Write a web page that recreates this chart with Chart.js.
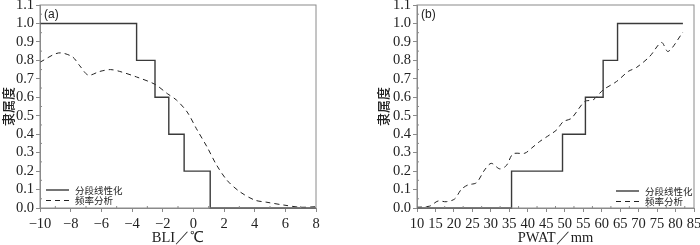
<!DOCTYPE html>
<html lang="zh">
<head>
<meta charset="UTF-8" />
<title>隶属度</title>
<script src="https://cdn.jsdelivr.net/npm/chart.js@4"></script>
<style>
  body { margin: 0; background: #fff; }
  .row { display: flex; width: 700px; height: 245px; }
  .chartBox { width: 350px; height: 245px; }
</style>
</head>
<body>
<div class="row">
  <div class="chartBox"><canvas id="chartA" width="350" height="245"></canvas></div>
  <div class="chartBox"><canvas id="chartB" width="350" height="245"></canvas></div>
</div>
<script>
// shared
const yTicks = [0, 0.1, 0.2, 0.3, 0.4, 0.5, 0.6, 0.7, 0.8, 0.9, 1.0, 1.1];
const yTitle = '隶属度';
const stepLabel = '分段线性化';
const freqLabel = '频率分析';

// (a) BLI
const bliTicks = [-10, -8, -6, -4, -2, 0, 2, 4, 6, 8];
const bliStepX = [-10, -3.7, -2.5, -1.6, -0.6, 1.1, 8];
const bliStepY = [1.0, 0.8, 0.6, 0.4, 0.2, 0.0, 0.0];
const bliFreqX = [-10, -8.8, -7.9, -7.4, -6.85, -6.1, -5.4, -4.8, -3.7, -2.5, -1.7, -1.1, -0.4, 0.2, 0.9, 1.5, 2.2, 3.0, 4.0, 4.8, 5.9, 7.0, 8.0];
const bliFreqY = [0.79, 0.84, 0.82, 0.77, 0.72, 0.74, 0.75, 0.74, 0.71, 0.67, 0.62, 0.585, 0.52, 0.43, 0.33, 0.235, 0.15, 0.09, 0.043, 0.031, 0.016, 0.004, 0.007];

// (b) PWAT
const pwatTicks = [10, 15, 20, 25, 30, 35, 40, 45, 50, 55, 60, 65, 70, 75, 80, 85];
const pwatStepX = [10, 35.6, 49.4, 55.6, 60.4, 64.3, 82];
const pwatStepY = [0.0, 0.2, 0.4, 0.6, 0.8, 1.0, 1.0];
const pwatFreqX = [10, 13.4, 15.7, 17.9, 20.2, 22, 23.8, 26.1, 28.3, 30.1, 32.4, 34.2, 36, 39.2, 41, 43.2, 45.9, 47.8, 49.6, 51.8, 55.4, 57.7, 60.4, 64, 67.2, 69.4, 73, 76.2, 78, 82];
const pwatFreqY = [0.004, 0.01, 0.038, 0.034, 0.049, 0.101, 0.125, 0.137, 0.206, 0.242, 0.212, 0.23, 0.293, 0.297, 0.324, 0.36, 0.396, 0.423, 0.468, 0.486, 0.577, 0.586, 0.64, 0.685, 0.74, 0.761, 0.821, 0.897, 0.848, 0.953];

const frameColor = '#8a8a8a';
const serif = "'Liberation Serif', 'Times New Roman', serif";
const cjk = "'Noto Sans CJK SC', sans-serif";

const toPoints = (xs, ys) => xs.map((x, i) => ({ x: x, y: ys[i] }));
const fmtMinus = v => String(v).replace('-', '\u2212');

// frame, minor ticks, panel label and legend
const decor = {
    id: 'decor',
    afterDraw(chart, args, opts) {
        const ctx = chart.ctx;
        const a = chart.chartArea;
        const xs = chart.scales.x;
        const ys = chart.scales.y;
        ctx.save();
        ctx.strokeStyle = frameColor;
        ctx.lineWidth = 1;
        ctx.strokeRect(a.left, a.top, a.right - a.left, a.bottom - a.top);
        // minor ticks, pointing inward
        ctx.beginPath();
        for (let i = 0; i < yTicks.length - 1; i++) {
            const py = ys.getPixelForValue((yTicks[i] + yTicks[i + 1]) / 2);
            ctx.moveTo(a.left, py);
            ctx.lineTo(a.left + 2, py);
        }
        const xt = opts.xTicks;
        for (let i = 0; i < xt.length - 1; i++) {
            const px = xs.getPixelForValue((xt[i] + xt[i + 1]) / 2);
            ctx.moveTo(px, a.bottom);
            ctx.lineTo(px, a.bottom - 2);
        }
        ctx.stroke();

        // panel label
        ctx.fillStyle = '#222';
        ctx.font = "12px 'Liberation Sans', Arial, sans-serif";
        ctx.textBaseline = 'middle';
        ctx.textAlign = 'left';
        ctx.fillText(opts.panel, a.left + 4, a.top + 10);

        // legend
        const lx = opts.legendX;
        chart.data.datasets.forEach((ds, i) => {
            const ly = opts.legendY + i * 10.5;
            ctx.beginPath();
            ctx.strokeStyle = ds.borderColor;
            ctx.lineWidth = ds.borderWidth;
            ctx.setLineDash(ds.borderDash || []);
            ctx.moveTo(lx, ly);
            ctx.lineTo(lx + 23, ly);
            ctx.stroke();
            ctx.setLineDash([]);
            ctx.fillStyle = '#222';
            ctx.font = '9.5px ' + cjk;
            ctx.fillText(ds.label, lx + 29, ly);
        });
        ctx.restore();
    }
};

function makeChart(id, cfg) {
    const ctx = document.getElementById(id).getContext('2d');
    return new Chart(ctx, {
        type: 'line',
        data: {
            datasets: [{
                label: stepLabel,
                data: toPoints(cfg.stepX, cfg.stepY),
                stepped: true,
                borderColor: '#3a3a3a',
                borderWidth: 1.4,
                pointRadius: 0,
                fill: false,
                clip: false
            }, {
                label: freqLabel,
                data: toPoints(cfg.freqX, cfg.freqY),
                borderColor: '#222',
                borderWidth: 1,
                borderDash: [5, 4],
                tension: 0.3,
                pointRadius: 0,
                fill: false,
                clip: false
            }]
        },
        options: {
            responsive: false,
            animation: false,
            events: [],
            layout: { padding: cfg.padding },
            plugins: {
                legend: { display: false },
                tooltip: { enabled: false },
                decor: { panel: cfg.panel, xTicks: cfg.xTicks, legendX: cfg.legendX, legendY: cfg.legendY }
            },
            scales: {
                x: {
                    type: 'linear',
                    min: cfg.xTicks[0],
                    max: cfg.xTicks[cfg.xTicks.length - 1],
                    afterBuildTicks: s => { s.ticks = cfg.xTicks.map(v => ({ value: v })); },
                    afterFit: s => { s.height = 37; s.paddingLeft = 0; s.paddingRight = 0; },
                    grid: { drawOnChartArea: false, tickLength: 4, color: frameColor },
                    border: { color: frameColor },
                    ticks: {
                        maxRotation: 0,
                        autoSkip: false,
                        padding: 3,
                        color: '#222',
                        font: { family: serif, size: 14.5 },
                        callback: v => fmtMinus(v)
                    },
                    title: {
                        display: true,
                        text: cfg.xTitle,
                        color: '#222',
                        padding: 0,
                        font: { family: serif, size: 14.5, lineHeight: 1 }
                    }
                },
                y: {
                    min: 0,
                    max: 1.1,
                    afterBuildTicks: s => { s.ticks = yTicks.map(v => ({ value: v })); },
                    afterFit: s => { s.width = cfg.yWidth; s.paddingTop = 0; s.paddingBottom = 0; },
                    grid: { drawOnChartArea: false, tickLength: 4, color: frameColor },
                    border: { color: frameColor },
                    ticks: {
                        autoSkip: false,
                        padding: 2,
                        color: '#222',
                        font: { family: serif, size: 14.5 },
                        callback: v => v.toFixed(1)
                    },
                    title: {
                        display: true,
                        text: yTitle,
                        color: '#222',
                        padding: 0,
                        font: { family: cjk, size: 13, weight: '500' }
                    }
                }
            }
        },
        plugins: [decor]
    });
}

makeChart('chartA', {
    panel: '(a)',
    xTitle: 'BLI\uFF0F\u2103',
    xTicks: bliTicks,
    stepX: bliStepX, stepY: bliStepY,
    freqX: bliFreqX, freqY: bliFreqY,
    padding: { left: 0, right: 34, top: 5, bottom: 0 },
    yWidth: 40,
    legendX: 46, legendY: 190
});

makeChart('chartB', {
    panel: '(b)',
    xTitle: 'PWAT\uFF0Fmm',
    xTicks: pwatTicks,
    stepX: pwatStepX, stepY: pwatStepY,
    freqX: pwatFreqX, freqY: pwatFreqY,
    padding: { left: 25, right: 6, top: 5, bottom: 0 },
    yWidth: 42,
    legendX: 266, legendY: 191
});
</script>
</body>
</html>
